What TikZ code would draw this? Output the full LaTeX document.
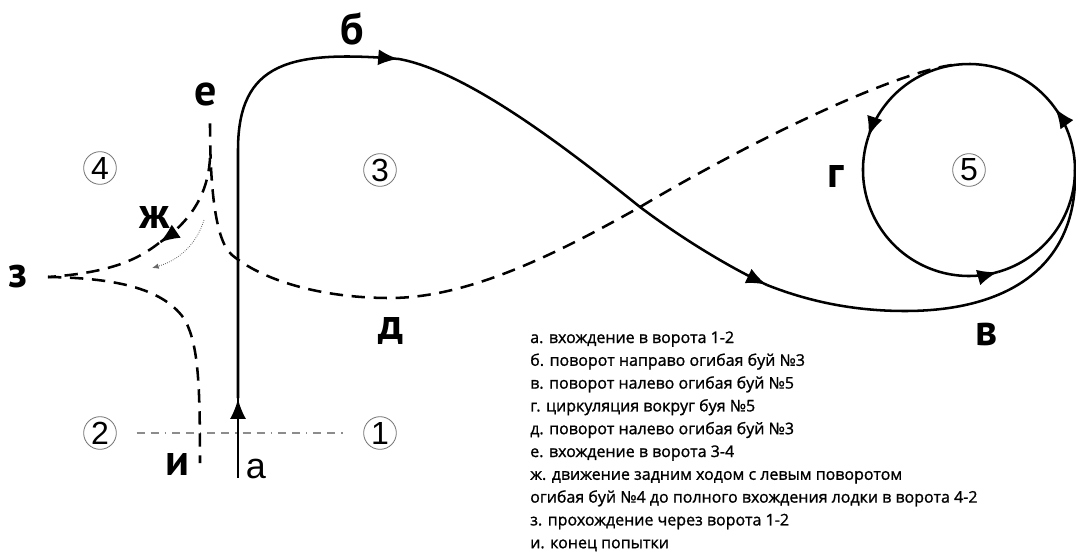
\documentclass[tikz,border=0pt]{standalone}
\usepackage{fontspec}
\setmainfont{PT Sans}
\newfontfamily\arialfont{Liberation Sans}
\newfontfamily\legendfont[FakeBold=1.2]{Open Sans}
\usetikzlibrary{arrows.meta, decorations.markings}

\begin{document}
\begin{tikzpicture}[
  x=0.75pt, y=-0.75pt,
  route/.style={line width=1.9pt, line join=round},
  dashroute/.style={route, dash pattern=on 10pt off 6.5pt},
  headed/.style={postaction={decorate, decoration={markings,
    mark=at position -0.6pt with {\arrow[solid]{Latex[length=15pt, width=12pt]}}}}},
  buoy/.style={circle, draw=black!55, line width=0.6pt, minimum size=24.5pt, inner sep=0pt,
    font=\arialfont\fontsize{24}{24}\selectfont},
  lbl/.style={inner sep=0pt, font=\bfseries\fontsize{33}{33}\selectfont},
  gate/.style={draw=black!45, line width=0.9pt,
    dash pattern=on 6pt off 4.5pt on 6pt off 4.5pt on 1pt off 4.5pt},
  legend/.style={anchor=base west, inner sep=0pt, font=\legendfont\fontsize{12}{15}\selectfont}
]
  \useasboundingbox (0,0) rectangle (1076,554);

  % buoys and gate 1-2
  \node[buoy] (b1) at (380,433) {1};
  \node[buoy] (b2) at (100,433) {2};
  \node[buoy] (b3) at (380,170) {3};
  \node[buoy] (b4) at (100,168) {4};
  \node[buoy] (b5) at (969,170) {5};
  \draw[gate, shorten <=15pt, shorten >=12pt] (b2) -- (b1);

  % solid route: a, b, v
  \coordinate (a0) at (238,478);
  \coordinate (a1) at (238,398);
  \coordinate (a2) at (238,150);
  \coordinate (bt) at (399,59);
  \coordinate (x1) at (640,207);
  \coordinate (v1) at (767,285);
  \coordinate (v2) at (905,311);
  \coordinate (cR) at (1075,170);
  \draw[route, headed] (a0) -- (a1);
  \draw[route, headed] (a1) -- (a2) .. controls (238,62) and (290,50) .. (bt);
  \draw[route, headed] (bt) .. controls (470,72) and (575,155) .. (x1)
    .. controls (680,237) and (725,265) .. (v1);
  \draw[route] (v1) .. controls (805,300) and (850,311) .. (v2)
    .. controls (1010,311) and (1078,265) .. (cR);

  % circulation round buoy 5
  \draw[route, headed] (b5.center) ++(0:106) arc[start angle=0, end angle=-36, radius=106];
  \draw[route, headed] (b5.center) ++(-36:106) arc[start angle=-36, end angle=-162, radius=106];
  \draw[route, headed] (b5.center) ++(-162:106) arc[start angle=-162, end angle=-286, radius=106];
  \draw[route] (b5.center) ++(-286:106) arc[start angle=-286, end angle=-360, radius=106];

  % dashed route: d, e, zh, z, i
  \coordinate (d0) at (952,65);
  \coordinate (d1) at (390,298);
  \coordinate (d2) at (232,255);
  \coordinate (e0) at (210,122);
  \coordinate (zh0) at (210,158);
  \coordinate (zh1) at (159,243);
  \coordinate (z0) at (48,277);
  \coordinate (i0) at (200,463);
  \draw[dashroute] (d0) .. controls (900,72) and (770,130) .. (x1)
    .. controls (560,252) and (470,298) .. (d1)
    .. controls (320,298) and (262,280) .. (d2)
    .. controls (214,240) and (210,180) .. (e0);
  \draw[dashroute, headed] (zh0) .. controls (208,195) and (190,222) .. (zh1);
  \draw[dashroute] (zh1) .. controls (135,262) and (105,273) .. (z0);
  \draw[dashroute] (z0) .. controls (120,278) and (165,290) .. (185,320)
    .. controls (198,345) and (200,380) .. (i0);
  \draw[black!60, line width=0.6pt, densely dotted, -{Latex[length=5pt, width=4pt]}]
    (204,220) .. controls (197,243) and (180,260) .. (152,268);

  % letters
  \node[lbl] (la) at (256,469) {\arialfont\mdseries\fontsize{27}{27}\selectfont а};
  \node[lbl] (lb) at (352,29) {б};
  \node[lbl] (lv) at (987,334) {в};
  \node[lbl] (lg) at (836,176) {г};
  \node[lbl] (ld) at (391,331) {д};
  \node[lbl] (le) at (206,94) {е};
  \node[lbl] (lzh) at (155,217) {ж};
  \node[lbl] (lz) at (18,277) {з};
  \node[lbl] (li) at (177,464) {и};

  % legend
  \foreach \txt [count=\i from 0] in {
    а. вхождение в ворота 1-2,
    б. поворот направо огибая буй №3,
    в. поворот налево огибая буй №5,
    г. циркуляция вокруг буя №5,
    д. поворот налево огибая буй №3,
    е. вхождение в ворота 3-4,
    ж. движение задним ходом с левым поворотом,
    огибая буй №4 до полного вхождения лодки в ворота 4-2,
    з. прохождение через ворота 1-2,
    и. конец попытки}
    \node[legend] (leg\i) at (530,{343+22.8*\i}) {\txt};
\end{tikzpicture}
\end{document}
